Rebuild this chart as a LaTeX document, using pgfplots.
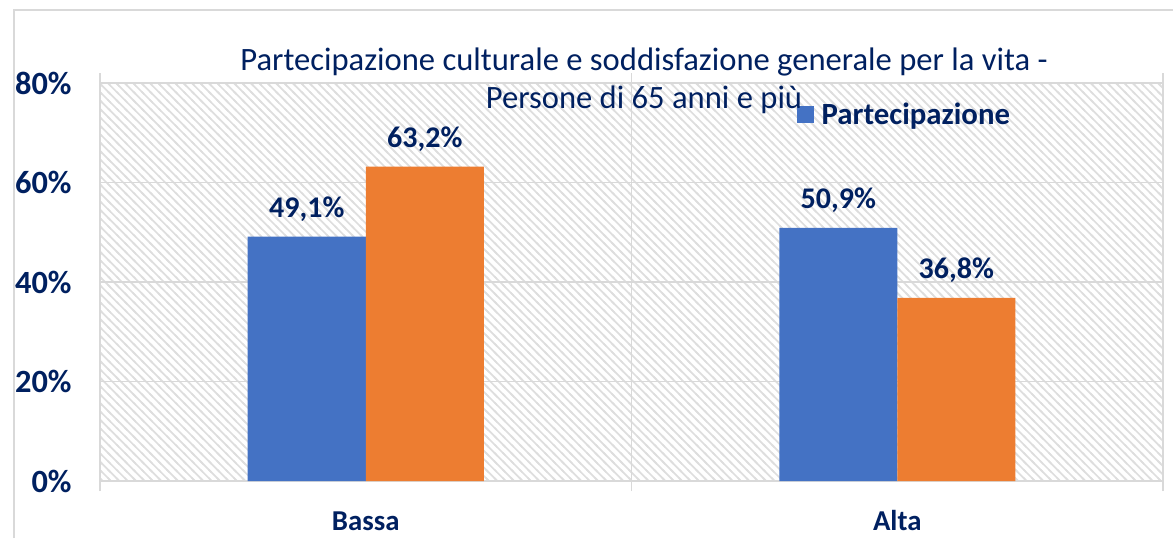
\documentclass[border=0pt]{standalone}
\usepackage{fontspec}
\setmainfont{Carlito}
\usepackage{pgfplots}
\pgfplotsset{compat=1.18}
\usetikzlibrary{patterns.meta}
\definecolor{navy}{HTML}{002060}
\definecolor{barblue}{HTML}{4472C4}
\definecolor{barorange}{HTML}{ED7D31}
\definecolor{gridgray}{HTML}{D9D9D9}
\definecolor{hatchgray}{HTML}{DEDEDE}

\tikzdeclarepattern{
  name=hatch,
  type=uncolored,
  bounding box={(-1pt,-1pt) and (5pt,5pt)},
  tile size={(4.2pt,4.2pt)},
  code={\draw[line width=0.85pt] (-1pt,5.2pt) -- (5.2pt,-1pt);}
}

\begin{document}
\begin{tikzpicture}[x=1pt,y=1pt]
\useasboundingbox (0,0) rectangle (586.5,269);
\draw[gridgray, line width=0.75pt] (7,0) -- (7,264) -- (590,264);
\begin{axis}[
  at={(50pt,28.5pt)}, anchor=south west,
  scale only axis, width=531.5pt, height=199pt,
  xmin=-0.5, xmax=1.5, ymin=0, ymax=80,
  /pgf/number format/assume math mode=true,
  axis background/.style={pattern={hatch}, pattern color=hatchgray},
  axis line style={gridgray, line width=0.75pt},
  major tick length=0pt,
  ytick={0,20,40,60,80},
  yticklabels={0\%,20\%,40\%,60\%,80\%},
  ymajorgrids,
  grid style={gridgray, line width=0.75pt},
  yticklabel style={font=\bfseries\fontsize{16.2}{19}\selectfont, text=navy, inner sep=0pt, xshift=-14pt},
  xtick={0,1},
  xticklabels={Bassa,Alta},
  xticklabel style={font=\bfseries\fontsize{14.4}{17}\selectfont, text=navy, anchor=base, yshift=-24.5pt},
  extra x ticks={-0.5,0.5,1.5},
  extra x tick labels={},
  extra x tick style={grid=major, tick align=outside, major tick length=5pt, tick style={draw=gridgray, line width=0.75pt}},
  ybar,
  nodes near coords={\pgfmathprintnumber[fixed,fixed zerofill,precision=1,use comma]{\pgfplotspointmeta}\%},
  every node near coord/.append style={font=\bfseries\fontsize{15}{18}\selectfont, text=navy, anchor=base, yshift=9.5pt},
  legend style={draw=none, fill=none, at={(0.655,0.92)}, anchor=west, font=\bfseries\fontsize{15.4}{18}\selectfont, text=navy, inner sep=0pt, legend cell align=left},
]
\addplot[ybar, bar width=59pt, bar shift=-29.5pt, fill=barblue, draw=none,
  legend image code/.code={\fill[barblue] (0pt,-4.25pt) rectangle (8.5pt,4.25pt); \path (10.5pt,0pt);}]
  coordinates {(0,49.1) (1,50.9)};
\addlegendentry{Partecipazione}
\addplot[ybar, bar width=59pt, bar shift=29.5pt, fill=barorange, draw=none, forget plot]
  coordinates {(0,63.2) (1,36.8)};
\end{axis}
\node[anchor=base, font=\fontsize{16.3}{19}\selectfont, text=navy, inner sep=0pt] at (322,234) {Partecipazione culturale e soddisfazione generale per la vita -};
\node[anchor=base, font=\fontsize{16.3}{19}\selectfont, text=navy, inner sep=0pt] at (322,215) {Persone di 65 anni e più};
\end{tikzpicture}
\end{document}
